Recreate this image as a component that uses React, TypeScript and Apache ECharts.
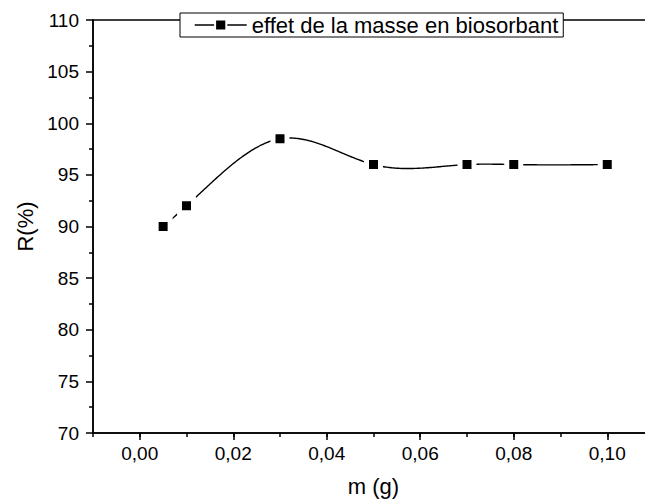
import React, { useEffect, useRef } from "react";
import * as echarts from "echarts";

const massG = [0.005, 0.01, 0.03, 0.05, 0.07, 0.08, 0.1];
const removalPct = [90, 92, 98.5, 96, 96, 96, 96];
const seriesName = "effet de la masse en biosorbant";
const xTitle = "m (g)";
const yTitle = "R(%)";

const FONT = "'Liberation Sans', Arial, sans-serif";

// natural cubic spline evaluator (rendering only; data stays the raw points)
function naturalSpline(xs: number[], ys: number[]) {
  const n = xs.length;
  const h: number[] = [];
  for (let i = 0; i < n - 1; i++) h.push(xs[i + 1] - xs[i]);
  const a: number[] = new Array(n).fill(0);
  const b: number[] = new Array(n).fill(0);
  const c: number[] = new Array(n).fill(0);
  const d: number[] = new Array(n).fill(0);
  b[0] = 1;
  b[n - 1] = 1;
  for (let i = 1; i < n - 1; i++) {
    a[i] = h[i - 1];
    b[i] = 2 * (h[i - 1] + h[i]);
    c[i] = h[i];
    d[i] = 6 * ((ys[i + 1] - ys[i]) / h[i] - (ys[i] - ys[i - 1]) / h[i - 1]);
  }
  // Thomas algorithm
  const cp = new Array(n).fill(0);
  const dp = new Array(n).fill(0);
  cp[0] = c[0] / b[0];
  dp[0] = d[0] / b[0];
  for (let i = 1; i < n; i++) {
    const m = b[i] - a[i] * cp[i - 1];
    cp[i] = c[i] / m;
    dp[i] = (d[i] - a[i] * dp[i - 1]) / m;
  }
  const M = new Array(n).fill(0);
  M[n - 1] = dp[n - 1];
  for (let i = n - 2; i >= 0; i--) M[i] = dp[i] - cp[i] * M[i + 1];
  return (x: number) => {
    let i = 0;
    while (i < n - 2 && x > xs[i + 1]) i++;
    const hi = h[i];
    const t1 = xs[i + 1] - x;
    const t0 = x - xs[i];
    return (
      (M[i] * t1 * t1 * t1) / (6 * hi) +
      (M[i + 1] * t0 * t0 * t0) / (6 * hi) +
      (ys[i] / hi - (M[i] * hi) / 6) * t1 +
      (ys[i + 1] / hi - (M[i + 1] * hi) / 6) * t0
    );
  };
}

export default function App() {
  const ref = useRef<HTMLDivElement>(null);
  useEffect(() => {
    if (!ref.current) return;
    const chart = echarts.init(ref.current, undefined, { renderer: "svg" });
    const fmt = (v: number) => v.toFixed(2).replace(".", ",");
    const spline = naturalSpline(massG, removalPct);
    chart.setOption({
      animation: false,
      backgroundColor: "#fff",
      textStyle: { fontFamily: FONT, color: "#000" },
      grid: {
        left: 93,
        top: 20,
        right: 6,
        bottom: 68,
        show: true,
        borderColor: "#000",
        borderWidth: 1.5,
        backgroundColor: "transparent",
      },
      legend: {
        left: 180,
        top: 13,
        padding: [1, 5, 1, 14],
        itemWidth: 52,
        itemHeight: 14,
        itemGap: 6,
        backgroundColor: "#fff",
        borderColor: "#000",
        borderWidth: 1,
        lineStyle: { color: "#000", width: 1.4, opacity: 1 },
        textStyle: { fontFamily: FONT, fontSize: 22, color: "#000" },
        data: [seriesName],
      },
      xAxis: [
        {
          type: "value",
          min: -0.01,
          max: 0.11,
          splitNumber: 6,
          name: xTitle,
          nameLocation: "middle",
          nameGap: 42,
          nameTextStyle: { fontFamily: FONT, fontSize: 22, color: "#000" },
          axisLine: { show: true, onZero: false, lineStyle: { color: "#000", width: 1.5 } },
          axisTick: { show: true, inside: false, length: 7, lineStyle: { color: "#000", width: 1.5 } },
          axisLabel: {
            showMinLabel: false,
            showMaxLabel: false,
            margin: 11,
            fontFamily: FONT,
            fontSize: 19,
            color: "#000",
            formatter: (v: number) => fmt(v),
          },
          splitLine: { show: false },
        },
        {
          type: "value",
          min: -0.01,
          max: 0.11,
          interval: 0.01,
          position: "bottom",
          axisLine: { show: false, onZero: false },
          axisTick: { show: true, inside: false, length: 4, lineStyle: { color: "#000", width: 1.5 } },
          axisLabel: { show: false },
          splitLine: { show: false },
        },
      ],
      yAxis: {
        type: "value",
        min: 70,
        max: 110,
        interval: 5,
        name: yTitle,
        nameLocation: "middle",
        nameGap: 52,
        nameTextStyle: { fontFamily: FONT, fontSize: 22, color: "#000" },
        axisLine: { show: true, onZero: false, lineStyle: { color: "#000", width: 1.5 } },
        axisTick: { show: true, inside: false, length: 7, lineStyle: { color: "#000", width: 1.5 } },
        minorTick: { show: true, splitNumber: 2, length: 4, lineStyle: { color: "#000", width: 1.5 } },
        axisLabel: { margin: 14, fontFamily: FONT, fontSize: 19, color: "#000" },
        splitLine: { show: false },
      },
      series: [
        {
          name: "spline",
          type: "custom",
          xAxisIndex: 0,
          yAxisIndex: 0,
          z: 1,
          silent: true,
          data: [[massG[0], removalPct[0]]],
          renderItem: (params: any, api: any) => {
            const pts: number[][] = [];
            const x0 = massG[0];
            const x1 = massG[massG.length - 1];
            const steps = 300;
            for (let k = 0; k <= steps; k++) {
              const x = x0 + ((x1 - x0) * k) / steps;
              pts.push(api.coord([x, spline(x)]));
            }
            return {
              type: "polyline",
              shape: { points: pts },
              style: { stroke: "#000", lineWidth: 1.4, fill: null },
            };
          },
        },
        {
          name: seriesName,
          type: "line",
          xAxisIndex: 0,
          z: 3,
          data: massG.map((x, i) => [x, removalPct[i]]),
          symbol: "rect",
          symbolSize: 14,
          lineStyle: { color: "#000", width: 1.4, opacity: 0 },
          itemStyle: { color: "#000", borderColor: "#fff", borderWidth: 5 },
        },
      ],
    });
    return () => chart.dispose();
  }, []);
  return (
    <div
      ref={ref}
      style={{ position: "fixed", left: 0, top: 0, width: 660, height: 502, background: "#fff" }}
    />
  );
}
